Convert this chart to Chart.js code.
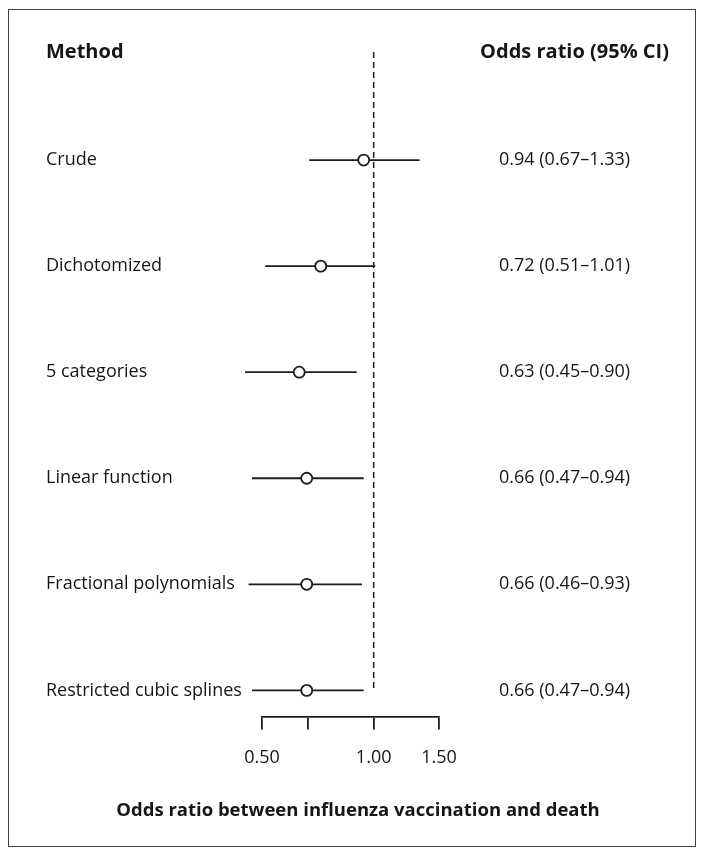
<!DOCTYPE html>
<html lang="en">
<head>
    <meta charset="UTF-8">
    <title>Odds ratio forest plot</title>
    <script src="https://cdn.jsdelivr.net/npm/chart.js"></script>
    <style>
        body {
            margin: 0;
            background: #ffffff;
        }

        #wrap {
            position: relative;
            width: 706px;
            height: 857px;
        }
    </style>
</head>
<body>
    <div id="wrap">
        <canvas id="forest"></canvas>
    </div>

    <script>
        // Data
        const methods = ['Crude', 'Dichotomized', '5 categories', 'Linear function', 'Fractional polynomials', 'Restricted cubic splines'];
        const oddsRatio = [0.94, 0.72, 0.63, 0.66, 0.66, 0.66];
        const ciLow = [0.67, 0.51, 0.45, 0.47, 0.46, 0.47];
        const ciHigh = [1.33, 1.01, 0.90, 0.94, 0.93, 0.94];
        const tickValues = [0.5, 2 / 3, 1, 1.5];
        const tickLabels = ['0.50', '', '1.00', '1.50'];

        const textColor = '#161616';
        const lineColor = '#1e1e1e';
        const font = '"Open Sans", "DejaVu Sans", sans-serif';

        const rows = methods.map((m, i) => i + 1);

        // whisker lines, one per method
        const ciSets = methods.map((m, i) => ({
            type: 'line',
            data: [{ x: ciLow[i], y: rows[i] }, { x: ciHigh[i], y: rows[i] }],
            borderColor: lineColor,
            borderWidth: 1.8,
            pointRadius: 0,
            clip: false
        }));

        // text columns and frame
        const annotate = {
            id: 'annotate',
            beforeDraw(chart) {
                const c = chart.ctx;
                c.save();
                c.strokeStyle = '#444';
                c.lineWidth = 1;
                c.strokeRect(8.5, 9.5, 687, 837);
                c.restore();
            },
            afterDraw(chart) {
                const c = chart.ctx;
                const y = chart.scales.y;
                c.save();
                c.fillStyle = textColor;
                c.textBaseline = 'middle';

                c.font = 'bold 20px ' + font;
                c.textAlign = 'left';
                c.fillText('Method', 46, y.getPixelForValue(-0.02));
                c.textAlign = 'right';
                c.fillText('Odds ratio (95% CI)', 669, y.getPixelForValue(-0.02));

                c.font = '18px ' + font;
                methods.forEach((m, i) => {
                    const py = y.getPixelForValue(rows[i]);
                    c.textAlign = 'left';
                    c.fillText(m, 46, py);
                    const txt = oddsRatio[i].toFixed(2) + ' (' + ciLow[i].toFixed(2) + '\u2013' + ciHigh[i].toFixed(2) + ')';
                    c.fillText(txt, 499, py);
                });

                c.font = 'bold 18.5px ' + font;
                c.textAlign = 'center';
                c.fillText('Odds ratio between influenza vaccination and death', 358, 811);
                c.restore();
            }
        };

        new Chart(document.getElementById('forest'), {
            type: 'scatter',
            data: {
                datasets: [
                    {
                        data: oddsRatio.map((v, i) => ({ x: v, y: rows[i] })),
                        pointStyle: 'circle',
                        pointRadius: 5.5,
                        pointHoverRadius: 5.5,
                        backgroundColor: '#ffffff',
                        borderColor: lineColor,
                        borderWidth: 1.8,
                        clip: false
                    },
                    ...ciSets,
                    {
                        // reference line at OR = 1
                        type: 'line',
                        data: [{ x: 1, y: -0.02 }, { x: 1, y: 5.98 }],
                        borderColor: lineColor,
                        borderWidth: 1.5,
                        borderDash: [6, 4],
                        pointRadius: 0,
                        clip: false
                    }
                ]
            },
            options: {
                responsive: true,
                maintainAspectRatio: false,
                animation: false,
                events: [],
                layout: {
                    padding: { left: 262, right: 267, top: 30, bottom: 70 }
                },
                plugins: {
                    legend: { display: false },
                    tooltip: { enabled: false }
                },
                scales: {
                    x: {
                        type: 'logarithmic',
                        position: 'bottom',
                        min: 0.5,
                        max: 1.5,
                        bounds: 'data',
                        afterBuildTicks: s => {
                            s.ticks = tickValues.map(v => ({ value: v }));
                        },
                        grid: {
                            drawOnChartArea: false,
                            drawTicks: true,
                            tickLength: 13,
                            color: lineColor,
                            lineWidth: 1.8
                        },
                        border: { display: true, color: lineColor, width: 1.8 },
                        ticks: {
                            padding: 18,
                            color: textColor,
                            font: { family: font, size: 18 },
                            maxRotation: 0,
                            autoSkip: false,
                            callback: (v, i) => tickLabels[i]
                        }
                    },
                    y: {
                        type: 'linear',
                        display: false,
                        reverse: true,
                        min: -0.2264,
                        max: 6.2453
                    }
                }
            },
            plugins: [annotate]
        });
    </script>
</body>
</html>
